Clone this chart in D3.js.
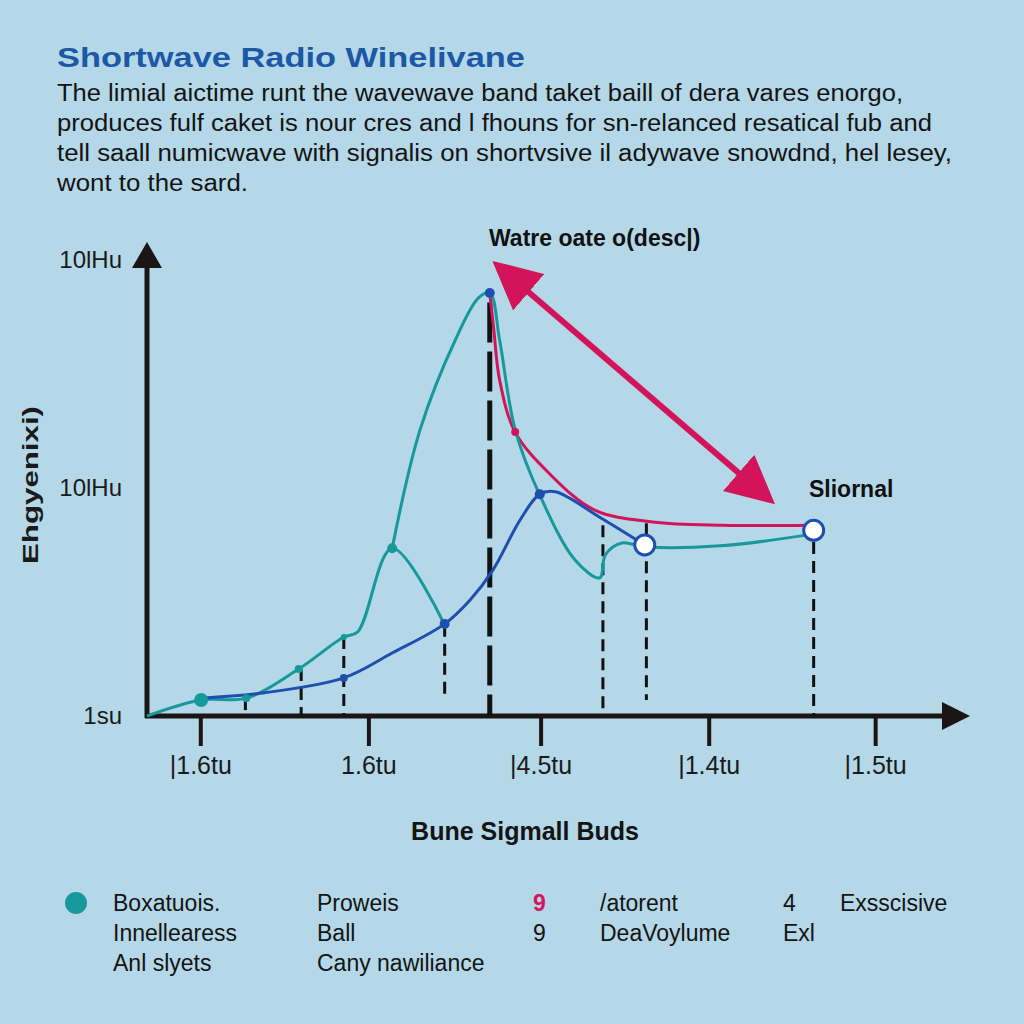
<!DOCTYPE html>
<html>
<head>
<meta charset="utf-8">
<script src="https://cdn.jsdelivr.net/npm/d3@7"></script>
<style>
  body { margin: 0; background: #b4d8e7; }
  text { font-family: "Liberation Sans", Arial, sans-serif; }
</style>
</head>
<body>
<div id="chart"></div>
<script>
// data (x: 0-100 along the axis, y: 0-100 up the axis)
var tealA = [[0,0],[6.6,3.4],[12.1,3.8],[18.5,10],[24,16.8],[25.7,17.9],[29.9,35.7],[36.3,19.4]]
var tealB = [[29.9,35.7],[33.3,60.9],[37.6,80],[40.4,88.9],[41.8,90],[43,80],[44.9,60.9],[47.9,47],[52.2,33.2],[55.2,29.4],[55.9,34.3],[57.9,36.8],[60.7,36],[69.9,36.2],[81.2,38.7]]
var blue = [[6.6,3.8],[14.1,4.9],[24,8.1],[29.9,13.4],[36.3,19.6],[39.4,24.7],[42.2,31.1],[45.5,41.7],[47.9,47.2],[49.8,47.7],[55.2,42.3],[60.7,36.4]]
var red = [[41.8,90],[42.3,82.1],[43,71.5],[44.9,60.4],[49,51.7],[54.6,43.8],[61.7,41.3],[70.2,40.6],[80.9,40.6]]

var tealDots = [[6.6,3.4,7],[12.1,3.8,4],[18.5,10,4],[24,16.8,3],[29.9,35.7,5]]
var blueDots = [[24,8.1,4],[36.3,19.6,5],[47.9,47.2,5],[41.8,90,5]]
var redDots = [[44.9,60.4,4]]
var openDots = [[60.7,36.4],[81.3,39.5]]

// dashed drop lines: x, top, bottom
var drops = [[12,3.8,0],[18.8,10,0],[24,16.8,0],[36.3,19.4,4.5],[55.6,40.6,0],[60.9,41,3.4],[81.3,37,0]]
var peakDrop = [41.8, 88, 0]

var xTicks = [6.5, 27, 48, 68.5, 88.8]
var xTickLabels = ["|1.6tu", "1.6tu", "|4.5tu", "|1.4tu", "|1.5tu"]
var yTicks = [97, 48.5, 0]
var yTickLabels = ["10lHu", "10lHu", "1su"]

var arrowFrom = [43, 95.5], arrowTo = [75.7, 46.4]

var titleText = "Shortwave Radio Winelivane"
var bodyLines = [
  "The limial aictime runt the wavewave band taket baill of dera vares enorgo,",
  "produces fulf caket is nour cres and l fhouns for sn-relanced resatical fub and",
  "tell saall numicwave with signalis on shortvsive il adywave snowdnd, hel lesey,",
  "wont to the sard."
]
var bodyWidths = [846, 875, 895, 191]

var legendCols = [
  ["Boxatuois.", "Innellearess", "Anl slyets"],
  ["Proweis", "Ball", "Cany nawiliance"],
  ["9", "9"],
  ["/atorent", "DeaVoylume"],
  ["4", "Exl"],
  ["Exsscisive"]
]

var width = 1024, height = 1024
var svg = d3.select("#chart").append("svg")
  .attr("width", width).attr("height", height)

svg.append("rect").attr("width", width).attr("height", height).attr("fill", "#b4d8e7")

var x = d3.scaleLinear().domain([0, 100]).range([147, 967])
var y = d3.scaleLinear().domain([0, 100]).range([716, 246])

// title + paragraph
svg.append("text").attr("x", 57).attr("y", 67)
  .style("font-size", "28px").style("font-weight", "bold").attr("fill", "#1c58a6")
  .attr("textLength", 468).attr("lengthAdjust", "spacingAndGlyphs")
  .text(titleText)

svg.selectAll(".body").data(bodyLines).join("text")
  .attr("x", 57).attr("y", function(d, i) { return 101 + i * 30 })
  .style("font-size", "23px").attr("fill", "#141414")
  .attr("textLength", function(d, i) { return bodyWidths[i] })
  .attr("lengthAdjust", "spacingAndGlyphs")
  .text(function(d) { return d })

var defs = svg.append("defs")
defs.append("marker").attr("id", "redHead")
  .attr("viewBox", "0 0 10 10").attr("refX", 8).attr("refY", 5)
  .attr("markerWidth", 8).attr("markerHeight", 8).attr("markerUnits", "strokeWidth")
  .attr("orient", "auto-start-reverse")
  .append("path").attr("d", "M0,0 L10,5 L0,10 z").attr("fill", "#d4145a")

// axes
var axisColor = "#1b1515"
svg.append("line").attr("x1", x(0)).attr("y1", y(0) + 2).attr("x2", x(0)).attr("y2", 262)
  .attr("stroke", axisColor).attr("stroke-width", 5)
svg.append("path").attr("d", "M" + x(0) + ",242 L" + (x(0) - 15) + ",268 L" + (x(0) + 15) + ",268 z")
  .attr("fill", axisColor)
svg.append("line").attr("x1", x(0) - 2).attr("y1", y(0)).attr("x2", 948).attr("y2", y(0))
  .attr("stroke", axisColor).attr("stroke-width", 5)
svg.append("path").attr("d", "M970," + y(0) + " L942," + (y(0) - 14) + " L942," + (y(0) + 14) + " z")
  .attr("fill", axisColor)

var xAxis = d3.axisBottom(x).tickValues(xTicks)
  .tickFormat(function(d, i) { return xTickLabels[i] })
  .tickSize(30).tickPadding(10)
var gx = svg.append("g").attr("transform", "translate(0," + y(0) + ")").call(xAxis)
gx.select(".domain").remove()
gx.selectAll(".tick line").attr("stroke", axisColor).attr("stroke-width", 4)
gx.selectAll(".tick text").attr("fill", "#1a1a1a").style("font-size", "25px")
  .style("font-family", "'Liberation Sans', Arial, sans-serif")

var yAxis = d3.axisLeft(y).tickValues(yTicks)
  .tickFormat(function(d, i) { return yTickLabels[i] })
  .tickSize(0).tickPadding(25)
var gy = svg.append("g").attr("transform", "translate(" + x(0) + ",0)").call(yAxis)
gy.select(".domain").remove()
gy.selectAll(".tick text").attr("fill", "#1a1a1a").style("font-size", "24px")
  .style("font-family", "'Liberation Sans', Arial, sans-serif")

svg.append("text").attr("transform", "translate(38,485) rotate(-90)")
  .attr("text-anchor", "middle").style("font-size", "22px").style("font-weight", "bold")
  .attr("textLength", 158).attr("lengthAdjust", "spacingAndGlyphs")
  .attr("fill", "#1a1a1a").text("Ehgyenixi)")

svg.append("text").attr("x", 525).attr("y", 840).attr("text-anchor", "middle")
  .style("font-size", "25px").style("font-weight", "bold").attr("fill", "#141414")
  .text("Bune Sigmall Buds")

// dashed drop lines
svg.selectAll(".drop").data(drops).join("line")
  .attr("x1", function(d) { return x(d[0]) }).attr("x2", function(d) { return x(d[0]) })
  .attr("y1", function(d) { return y(d[1]) }).attr("y2", function(d) { return y(d[2]) })
  .attr("stroke", "#111").attr("stroke-width", 3).attr("stroke-dasharray", "12,7")
svg.append("line")
  .attr("x1", x(peakDrop[0])).attr("x2", x(peakDrop[0]))
  .attr("y1", y(peakDrop[1])).attr("y2", y(peakDrop[2]))
  .attr("stroke", "#111").attr("stroke-width", 5).attr("stroke-dasharray", "40,9")

// curves
var line = d3.line().x(function(d) { return x(d[0]) }).y(function(d) { return y(d[1]) })
  .curve(d3.curveCatmullRom.alpha(0.5))
var teal = "#17999b", blueC = "#1f4fae", redC = "#d4145a"
svg.append("path").attr("d", line(red)).attr("fill", "none").attr("stroke", redC).attr("stroke-width", 3)
svg.append("path").attr("d", line(tealA)).attr("fill", "none").attr("stroke", teal).attr("stroke-width", 3)
svg.append("path").attr("d", line(tealB)).attr("fill", "none").attr("stroke", teal).attr("stroke-width", 3)
svg.append("path").attr("d", line(blue)).attr("fill", "none").attr("stroke", blueC).attr("stroke-width", 3)

svg.selectAll(".td").data(tealDots).join("circle")
  .attr("cx", function(d) { return x(d[0]) }).attr("cy", function(d) { return y(d[1]) })
  .attr("r", function(d) { return d[2] }).attr("fill", teal)
svg.selectAll(".bd").data(blueDots).join("circle")
  .attr("cx", function(d) { return x(d[0]) }).attr("cy", function(d) { return y(d[1]) })
  .attr("r", function(d) { return d[2] }).attr("fill", blueC)
svg.selectAll(".rd").data(redDots).join("circle")
  .attr("cx", function(d) { return x(d[0]) }).attr("cy", function(d) { return y(d[1]) })
  .attr("r", function(d) { return d[2] }).attr("fill", redC)
svg.selectAll(".od").data(openDots).join("circle")
  .attr("cx", function(d) { return x(d[0]) }).attr("cy", function(d) { return y(d[1]) })
  .attr("r", 10).attr("fill", "#ffffff").attr("stroke", blueC).attr("stroke-width", 3)

// double-headed arrow + labels
svg.append("line")
  .attr("x1", x(arrowFrom[0])).attr("y1", y(arrowFrom[1]))
  .attr("x2", x(arrowTo[0])).attr("y2", y(arrowTo[1]))
  .attr("stroke", redC).attr("stroke-width", 6)
  .attr("marker-start", "url(#redHead)").attr("marker-end", "url(#redHead)")

svg.append("text").attr("x", 489).attr("y", 246)
  .style("font-size", "23px").style("font-weight", "bold").attr("fill", "#111")
  .text("Watre oate o(desc|)")
svg.append("text").attr("x", 809).attr("y", 497)
  .style("font-size", "23px").style("font-weight", "bold").attr("fill", "#111")
  .text("Sliornal")

// legend
var colX = [113, 317, 533, 600, 783, 840]
svg.append("circle").attr("cx", 76).attr("cy", 903).attr("r", 11).attr("fill", teal)
legendCols.forEach(function(col, c) {
  svg.selectAll(".lg" + c).data(col).join("text")
    .attr("x", colX[c]).attr("y", function(d, i) { return 911 + i * 30 })
    .style("font-size", "23px")
    .style("font-weight", function(d, i) { return (c == 2 && i == 0) ? "bold" : "normal" })
    .attr("fill", function(d, i) { return (c == 2 && i == 0) ? redC : "#141414" })
    .text(function(d) { return d })
})
</script>
</body>
</html>
